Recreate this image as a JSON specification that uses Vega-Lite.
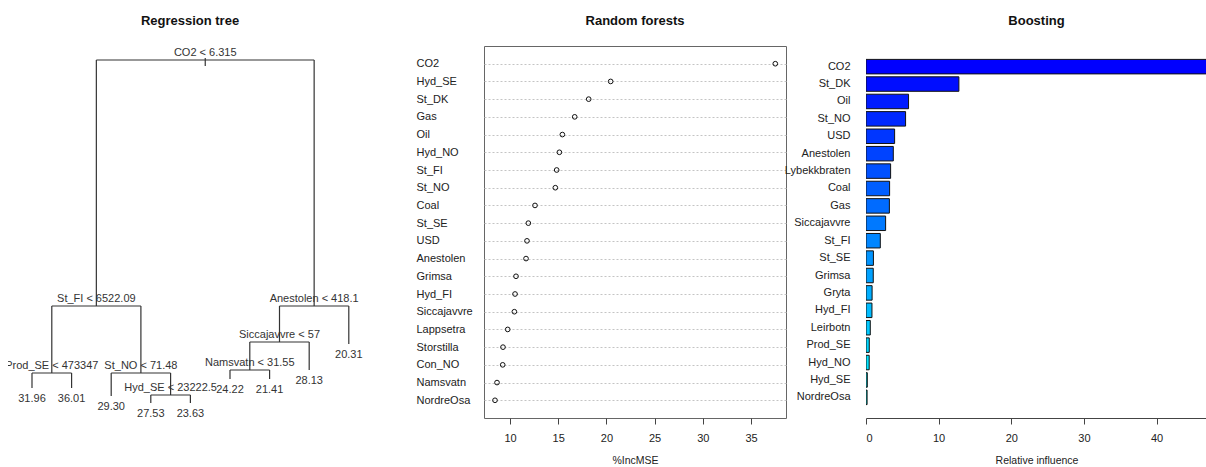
{
  "$schema": "https://vega.github.io/schema/vega-lite/v6.json",
  "padding": {"left": 8, "top": 14, "right": 0, "bottom": 0},
  "background": "white",
  "spacing": 35,
  "config": {
    "view": {"stroke": null},
    "font": "Liberation Sans",
    "title": {"font": "Liberation Sans", "fontSize": 13, "fontWeight": "bold", "color": "#111", "offset": 18, "anchor": "middle", "frame": "group"},
    "axis": {"labelFont": "Liberation Sans", "labelFontSize": 11, "labelColor": "#222", "titleFont": "Liberation Sans", "titleFontSize": 10.5, "titleFontWeight": "normal", "titleColor": "#222"}
  },
  "datasets": {
    "segments": [
      {"x": 5.375, "x2": 5.375, "y": 360, "y2": 352},
      {"x": 2.625, "x2": 8.125, "y": 358, "y2": 358},
      {"x": 2.625, "x2": 2.625, "y": 358, "y2": 112},
      {"x": 8.125, "x2": 8.125, "y": 358, "y2": 112},
      {"x": 1.5, "x2": 3.75, "y": 112, "y2": 112},
      {"x": 1.5, "x2": 1.5, "y": 112, "y2": 45},
      {"x": 3.75, "x2": 3.75, "y": 112, "y2": 45},
      {"x": 1, "x2": 2, "y": 45, "y2": 45},
      {"x": 1, "x2": 1, "y": 45, "y2": 30},
      {"x": 2, "x2": 2, "y": 45, "y2": 30},
      {"x": 3, "x2": 4.5, "y": 45, "y2": 45},
      {"x": 3, "x2": 3, "y": 45, "y2": 22},
      {"x": 4.5, "x2": 4.5, "y": 45, "y2": 23},
      {"x": 4, "x2": 5, "y": 23, "y2": 23},
      {"x": 4, "x2": 4, "y": 23, "y2": 15},
      {"x": 5, "x2": 5, "y": 23, "y2": 15},
      {"x": 7.25, "x2": 9, "y": 112, "y2": 112},
      {"x": 7.25, "x2": 7.25, "y": 112, "y2": 76},
      {"x": 9, "x2": 9, "y": 112, "y2": 74},
      {"x": 6.5, "x2": 8, "y": 76, "y2": 76},
      {"x": 6.5, "x2": 6.5, "y": 76, "y2": 48},
      {"x": 8, "x2": 8, "y": 76, "y2": 48},
      {"x": 6, "x2": 7, "y": 48, "y2": 48},
      {"x": 6, "x2": 6, "y": 48, "y2": 39},
      {"x": 7, "x2": 7, "y": 48, "y2": 39}
    ],
    "nodes": [
      {"kind": "split", "x": 5.375, "y": 358, "label": "CO2 < 6.315"},
      {"kind": "split", "x": 2.625, "y": 112, "label": "St_FI < 6522.09"},
      {"kind": "split", "x": 8.125, "y": 112, "label": "Anestolen < 418.1"},
      {"kind": "split", "x": 1.5, "y": 45, "label": "Prod_SE < 473347"},
      {"kind": "split", "x": 3.75, "y": 45, "label": "St_NO < 71.48"},
      {"kind": "split", "x": 4.5, "y": 23, "label": "Hyd_SE < 23222.5"},
      {"kind": "split", "x": 7.25, "y": 76, "label": "Siccajavvre < 57"},
      {"kind": "split", "x": 6.5, "y": 48, "label": "Namsvatn < 31.55"},
      {"kind": "leaf", "x": 1, "y": 30, "label": "31.96"},
      {"kind": "leaf", "x": 2, "y": 30, "label": "36.01"},
      {"kind": "leaf", "x": 3, "y": 22, "label": "29.30"},
      {"kind": "leaf", "x": 4, "y": 15, "label": "27.53"},
      {"kind": "leaf", "x": 5, "y": 15, "label": "23.63"},
      {"kind": "leaf", "x": 6, "y": 39, "label": "24.22"},
      {"kind": "leaf", "x": 7, "y": 39, "label": "21.41"},
      {"kind": "leaf", "x": 8, "y": 48, "label": "28.13"},
      {"kind": "leaf", "x": 9, "y": 74, "label": "20.31"}
    ],
    "rf": [
      {"var": "CO2", "incMSE": 37.52},
      {"var": "Hyd_SE", "incMSE": 20.44},
      {"var": "St_DK", "incMSE": 18.16},
      {"var": "Gas", "incMSE": 16.71},
      {"var": "Oil", "incMSE": 15.43},
      {"var": "Hyd_NO", "incMSE": 15.12},
      {"var": "St_FI", "incMSE": 14.84},
      {"var": "St_NO", "incMSE": 14.70},
      {"var": "Coal", "incMSE": 12.59},
      {"var": "St_SE", "incMSE": 11.90},
      {"var": "USD", "incMSE": 11.76},
      {"var": "Anestolen", "incMSE": 11.66},
      {"var": "Grimsa", "incMSE": 10.62},
      {"var": "Hyd_FI", "incMSE": 10.52},
      {"var": "Siccajavvre", "incMSE": 10.45},
      {"var": "Lappsetra", "incMSE": 9.76},
      {"var": "Storstilla", "incMSE": 9.27},
      {"var": "Con_NO", "incMSE": 9.24},
      {"var": "Namsvatn", "incMSE": 8.65},
      {"var": "NordreOsa", "incMSE": 8.44}
    ],
    "boost": [
      {"var": "CO2", "relinf": 47.2, "rank": 1},
      {"var": "St_DK", "relinf": 12.79, "rank": 2},
      {"var": "Oil", "relinf": 5.86, "rank": 3},
      {"var": "St_NO", "relinf": 5.45, "rank": 4},
      {"var": "USD", "relinf": 3.94, "rank": 5},
      {"var": "Anestolen", "relinf": 3.76, "rank": 6},
      {"var": "Lybekkbraten", "relinf": 3.39, "rank": 7},
      {"var": "Coal", "relinf": 3.25, "rank": 8},
      {"var": "Gas", "relinf": 3.22, "rank": 9},
      {"var": "Siccajavvre", "relinf": 2.70, "rank": 10},
      {"var": "St_FI", "relinf": 1.97, "rank": 11},
      {"var": "St_SE", "relinf": 1.02, "rank": 12},
      {"var": "Grimsa", "relinf": 1.00, "rank": 13},
      {"var": "Gryta", "relinf": 0.84, "rank": 14},
      {"var": "Hyd_FI", "relinf": 0.82, "rank": 15},
      {"var": "Leirbotn", "relinf": 0.59, "rank": 16},
      {"var": "Prod_SE", "relinf": 0.45, "rank": 17},
      {"var": "Hyd_NO", "relinf": 0.44, "rank": 18},
      {"var": "Hyd_SE", "relinf": 0.18, "rank": 19},
      {"var": "NordreOsa", "relinf": 0.15, "rank": 20}
    ]
  },
  "hconcat": [
    {
      "width": 372,
      "height": 372,
      "title": {"text": "Regression tree", "dx": -4},
      "layer": [
        {
          "data": {"name": "segments"},
          "mark": {"type": "rule", "color": "#333", "strokeWidth": 1.2},
          "encoding": {
            "x": {"field": "x", "type": "quantitative", "scale": {"domain": [0.394, 9.788], "nice": false, "zero": false}, "axis": null},
            "x2": {"field": "x2"},
            "y": {"field": "y", "type": "quantitative", "scale": {"domain": [0, 372], "nice": false, "zero": false}, "axis": null},
            "y2": {"field": "y2"}
          }
        },
        {
          "data": {"name": "nodes"},
          "transform": [{"filter": "datum.kind == 'split'"}],
          "mark": {"type": "text", "baseline": "alphabetic", "dy": -4, "fontSize": 11, "color": "#333", "clip": true},
          "encoding": {
            "x": {"field": "x", "type": "quantitative"},
            "y": {"field": "y", "type": "quantitative"},
            "text": {"field": "label"}
          }
        },
        {
          "data": {"name": "nodes"},
          "transform": [{"filter": "datum.kind == 'leaf'"}],
          "mark": {"type": "text", "baseline": "middle", "dy": 11, "fontSize": 11, "color": "#333", "clip": true},
          "encoding": {
            "x": {"field": "x", "type": "quantitative"},
            "y": {"field": "y", "type": "quantitative"},
            "text": {"field": "label"}
          }
        }
      ]
    },
    {
      "spacing": -3,
      "hconcat": [
        {
          "data": {"name": "rf"},
          "width": 302,
          "height": 372,
          "title": "Random forests",
          "view": {"stroke": "#666", "strokeWidth": 1},
          "mark": {"type": "point", "shape": "circle", "filled": false, "color": "#111", "size": 22, "strokeWidth": 1, "opacity": 1},
          "encoding": {
            "x": {"field": "incMSE", "type": "quantitative", "scale": {"domain": [7.3, 38.63], "nice": false, "zero": false},
                  "axis": {"title": "%IncMSE", "values": [10, 15, 20, 25, 30, 35], "grid": false, "domain": false, "tickSize": 6, "tickColor": "#444", "labelPadding": 8, "titlePadding": 12}},
            "y": {"field": "var", "type": "nominal", "sort": null, "scale": {"type": "point", "padding": 1.04},
                  "axis": {"title": null, "ticks": false, "domain": false, "labelAlign": "left", "labelPadding": 68, "grid": true, "gridColor": "#c4c4c4", "gridDash": [2, 2]}}
          }
        },
        {
          "data": {"name": "boost"},
          "width": 341,
          "height": 372,
          "title": "Boosting",
          "mark": {"type": "bar", "stroke": "#111", "strokeWidth": 1, "clip": true},
          "encoding": {
            "x": {"field": "relinf", "type": "quantitative", "scale": {"domain": [0, 46.95], "nice": false},
                  "axis": {"title": "Relative influence", "values": [0, 10, 20, 30, 40], "grid": false, "tickSize": 6, "domainColor": "#444", "tickColor": "#444", "labelPadding": 8, "titlePadding": 12}},
            "y": {"field": "var", "type": "nominal", "sort": null, "scale": {"paddingInner": 0.167, "paddingOuter": 0.77},
                  "axis": {"title": null, "ticks": false, "domain": false, "labelPadding": 16}},
            "color": {"field": "rank", "type": "quantitative", "scale": {"domain": [1, 20], "range": ["#0000ff", "#00ffff"], "interpolate": "rgb"}, "legend": null}
          }
        }
      ]
    }
  ]
}
